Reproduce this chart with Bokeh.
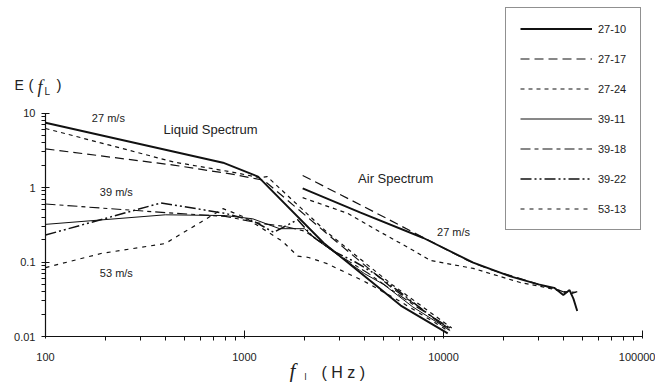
import math
from bokeh.plotting import figure
from bokeh.models import (Range1d, FixedTicker, CustomJSTickFormatter, Label,
                          Legend, LegendItem)
from bokeh.embed import file_html
from bokeh.resources import INLINE

# ---------------- data ----------------
series_names = ["27-10", "27-17", "27-24", "39-11", "39-18", "39-22", "53-13"]

# Liquid spectrum
liq_f_27_10 = [100, 780, 1170, 2500, 6100, 10500]
liq_E_27_10 = [7.4, 2.15, 1.4, 0.18, 0.026, 0.011]

liq_f_27_17 = [100, 440, 880, 1250, 2700, 5500, 11000]
liq_E_27_17 = [3.3, 2.0, 1.5, 1.25, 0.22, 0.045, 0.012]

liq_f_27_24 = [100, 210, 440, 880, 1200, 1300, 2600, 5500, 11000]
liq_E_27_24 = [6.2, 3.7, 2.2, 1.6, 1.35, 1.4, 0.25, 0.05, 0.013]

liq_f_39_11 = [100, 400, 800, 1100, 1500, 2000, 2300, 3000, 4000, 5000, 7000, 10800]
liq_E_39_11 = [0.32, 0.43, 0.42, 0.38, 0.28, 0.28, 0.2, 0.12, 0.07, 0.05, 0.025, 0.012]

liq_f_39_18 = [100, 400, 800, 1200, 1600, 2000, 2400, 3200, 4200, 5500, 7500, 10800]
liq_E_39_18 = [0.6, 0.46, 0.41, 0.33, 0.3, 0.26, 0.19, 0.11, 0.07, 0.042, 0.024, 0.013]

liq_f_39_22 = [100, 380, 800, 1100, 1400, 1850, 2200, 2800, 3600, 4500, 6000, 8000, 10800]
liq_E_39_22 = [0.23, 0.62, 0.45, 0.36, 0.25, 0.37, 0.22, 0.14, 0.1, 0.07, 0.04, 0.022, 0.012]

liq_f_53_13 = [100, 190, 400, 470, 600, 780, 1000, 1550, 1850, 2100, 2600, 4000, 6000, 8500, 10500]
liq_E_53_13 = [0.084, 0.13, 0.177, 0.23, 0.34, 0.52, 0.4, 0.19, 0.12, 0.115, 0.095, 0.055, 0.03, 0.017, 0.012]

# Air spectrum (27 m/s only)
air_f_27_10 = [1960, 3830, 7930, 14100, 21700, 30000, 36000, 40000, 43000, 45000, 47000]
air_E_27_10 = [0.97, 0.46, 0.21, 0.098, 0.064, 0.05, 0.045, 0.036, 0.042, 0.032, 0.022]

air_f_27_17 = [1960, 4000, 8000, 13200, 17000, 22000, 30000, 38000, 43000, 47000]
air_E_27_17 = [1.45, 0.55, 0.21, 0.105, 0.08, 0.065, 0.05, 0.042, 0.037, 0.04]

air_f_27_24 = [1960, 3300, 4840, 7060, 8590, 14100, 24300, 32000, 40000, 47000]
air_E_27_24 = [0.73, 0.45, 0.25, 0.143, 0.105, 0.082, 0.053, 0.046, 0.04, 0.039]

x_ticks = [100, 1000, 10000, 100000]
y_ticks = [0.01, 0.1, 1, 10]

# text annotations (data positions)
notes = ["27 m/s", "Liquid Spectrum", "39 m/s", "53 m/s", "Air Spectrum", "27 m/s"]
notes_f = [207, 675, 227, 227, 5750, 11230]
notes_E = [8.7, 6.0, 0.86, 0.072, 1.32, 0.25]
notes_size = ["11px", "13px", "11px", "11px", "13px", "11px"]

# ---------------- layout ----------------
W, H = 655, 382
AX_LEFT_PX, AX_RIGHT_PX = 45, 642      # pixel of f=100 and f=100000
AX_BOTTOM_PX, DEC_Y = 336, 74.5        # pixel of E=0.01, pixels per decade
DEC_X = (AX_RIGHT_PX - AX_LEFT_PX) / 3.0


def px_to_data(px, py):
    return (100 * 10 ** ((px - AX_LEFT_PX) / DEC_X),
            0.01 * 10 ** ((AX_BOTTOM_PX - py) / DEC_Y))


x0, y0 = px_to_data(0, H)
x1, y1 = px_to_data(W, 0)

styles = {
    "27-10": dict(line_width=1.9, line_dash="solid"),
    "27-17": dict(line_width=1.2, line_dash="9 5"),
    "27-24": dict(line_width=1.2, line_dash="4 4"),
    "39-11": dict(line_width=1.0, line_dash="solid"),
    "39-18": dict(line_width=1.1, line_dash="10 4 4 4"),
    "39-22": dict(line_width=1.5, line_dash="11 3 2 3 2 3"),
    "53-13": dict(line_width=1.2, line_dash="4 5"),
}
ink = "#111111"
FONT = "Liberation Sans"

p = figure(width=W, height=H, x_axis_type="log", y_axis_type="log",
           x_range=Range1d(x0, x1), y_range=Range1d(y0, y1),
           output_backend="svg", toolbar_location=None,
           min_border=0)
p.outline_line_color = None
p.xgrid.visible = False
p.ygrid.visible = False
p.background_fill_color = "white"
p.border_fill_color = "white"

liq = {
    "27-10": (liq_f_27_10, liq_E_27_10),
    "27-17": (liq_f_27_17, liq_E_27_17),
    "27-24": (liq_f_27_24, liq_E_27_24),
    "39-11": (liq_f_39_11, liq_E_39_11),
    "39-18": (liq_f_39_18, liq_E_39_18),
    "39-22": (liq_f_39_22, liq_E_39_22),
    "53-13": (liq_f_53_13, liq_E_53_13),
}
air = {
    "27-10": (air_f_27_10, air_E_27_10),
    "27-17": (air_f_27_17, air_E_27_17),
    "27-24": (air_f_27_24, air_E_27_24),
}

items = []
for name in series_names:
    f, E = liq[name]
    r = p.line(f, E, line_color=ink, **styles[name])
    if name in air:
        fa, Ea = air[name]
        p.line(fa, Ea, line_color=ink, **styles[name])
    items.append(LegendItem(label=name, renderers=[r]))

legend = Legend(items=items, location=(505, H - 230), padding=14, spacing=17,
                glyph_width=72, glyph_height=13, label_height=13,
                label_standoff=6, label_text_font=FONT,
                label_text_font_size="11px", label_text_color="#222222",
                border_line_color="#222222", border_line_width=1,
                background_fill_color="white", background_fill_alpha=1)
p.add_layout(legend)

# axes drawn at fixed data positions (left: f=100, bottom: E=0.01)
p.xaxis.fixed_location = y_ticks[0]
p.yaxis.fixed_location = x_ticks[0]
p.xaxis.bounds = (x_ticks[0], x_ticks[-1])
p.yaxis.bounds = (y_ticks[0], y_ticks[-1])
for ax, ticks in ((p.xaxis, x_ticks), (p.yaxis, y_ticks)):
    minors = [k * t for t in ticks[:-1] for k in range(2, 10)]
    ax.ticker = FixedTicker(ticks=ticks, minor_ticks=minors)
    ax.formatter = CustomJSTickFormatter(code="return String(tick)")
    ax.axis_line_color = ink
    ax.axis_line_width = 1.2
    ax.major_tick_line_color = ink
    ax.minor_tick_line_color = ink
    ax.major_label_text_font = FONT
    ax.major_label_text_font_size = "11px"
    ax.major_label_text_color = "#222222"
p.xaxis.major_tick_in = 6
p.xaxis.major_tick_out = 2
p.xaxis.minor_tick_in = 0
p.xaxis.minor_tick_out = 4
p.xaxis.major_label_standoff = 12
p.yaxis.major_tick_in = 4
p.yaxis.major_tick_out = 4
p.yaxis.minor_tick_in = 0
p.yaxis.minor_tick_out = 4
p.yaxis.major_label_standoff = 6

for t, fx, ey, fs in zip(notes, notes_f, notes_E, notes_size):
    p.add_layout(Label(x=fx, y=ey, text=t, text_font=FONT, text_font_size=fs,
                       text_color="#222222", text_align="center",
                       text_baseline="middle"))


def title_part(px, py, text, size, italic=False, serif=False):
    fx, ey = px_to_data(px, py)
    p.add_layout(Label(x=fx, y=ey, text=text,
                       text_font="Liberation Serif" if serif else FONT,
                       text_font_style="italic" if italic else "normal",
                       text_font_size=size, text_color="#222222",
                       text_align="left", text_baseline="alphabetic"))


# y title: E ( f_L )
title_part(14, 84, "E", "14px")
title_part(28, 84, "(", "15px")
title_part(37, 86, "f", "18px", italic=True, serif=True)
title_part(44, 91, "L", "10px")
title_part(56, 84, ")", "15px")
# x title: f_l ( H z )
title_part(289, 370, "f", "21px", italic=True, serif=True)
title_part(304, 376, "l", "9px")
title_part(321, 372, "( H z )", "16px")

open("out.html", "w").write(file_html(p, INLINE))
